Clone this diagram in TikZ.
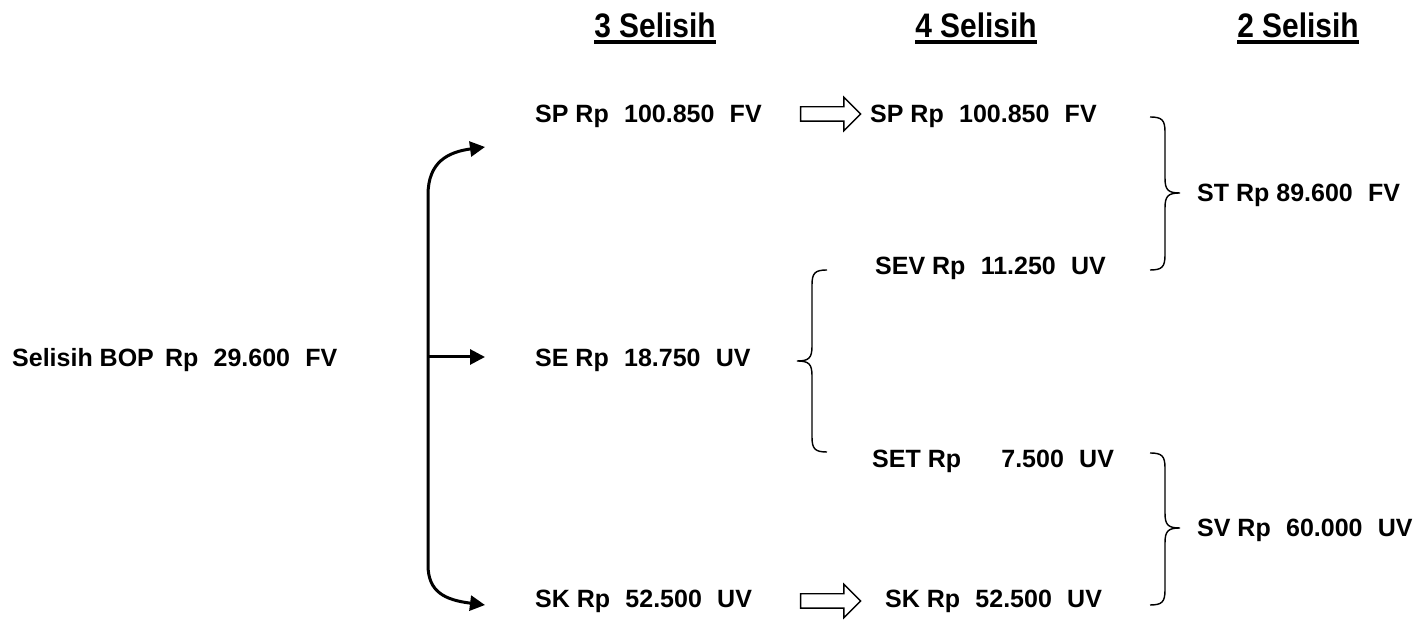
\documentclass[tikz,border=0pt]{standalone}
\usepackage{fontspec}
\setmainfont{Liberation Sans}
\newfontfamily\headfont{Liberation Sans}[FakeStretch=0.88]
\usetikzlibrary{arrows.meta,shapes.arrows,calc}
\begin{document}
\begin{tikzpicture}[x=1pt,y=1pt,
  lbl/.style={anchor=base west,inner sep=0pt,font=\fontsize{25}{29}\selectfont\bfseries},
  hdr/.style={anchor=base,inner sep=0pt,font=\headfont\fontsize{34}{40}\selectfont\bfseries},
  conn/.style={line width=3pt,{Triangle[length=15pt,width=15pt]}-{Triangle[length=15pt,width=15pt]}},
  conn1/.style={line width=3pt,-{Triangle[length=15pt,width=15pt]}},
  hollow/.style={single arrow,draw,line width=1.4pt,fill=white,minimum height=60pt,inner sep=6.5pt,single arrow head extend=9.5pt},
  brace/.style={line width=1.4pt}]
\useasboundingbox (0,0) rectangle (1414,620);
% headers
\node[hdr] (h3) at (655,582) {3 Selisih};
\node[hdr] (h4) at (976,582) {4 Selisih};
\node[hdr] (h2) at (1298,582) {2 Selisih};
\foreach \h in {h3,h4,h2}{\draw[line width=4pt] ($(\h.base west)+(0,-4)$) -- ($(\h.base east)+(0,-4)$);}
% labels
\node[lbl] (bop) at (12,253) {Selisih BOP\, Rp\,\, 29.600\,\, FV};
\node[lbl] (spa) at (535,497) {SP Rp\,\, 100.850\,\, FV};
\node[lbl] (sea) at (535,253) {SE Rp\,\, 18.750\,\, UV};
\node[lbl] (ska) at (535,12) {SK Rp\,\, 52.500\,\, UV};
\node[lbl] (spb) at (870,497) {SP Rp\,\, 100.850\,\, FV};
\node[lbl] (sev) at (875,345) {SEV Rp\,\, 11.250\,\, UV};
\node[lbl] (set) at (872,152) {SET Rp\quad\,\, 7.500\,\, UV};
\node[lbl] (skb) at (885,12) {SK Rp\,\, 52.500\,\, UV};
\node[lbl] (st) at (1197,418) {ST Rp 89.600\,\, FV};
\node[lbl] (sv) at (1197,83) {SV Rp\,\, 60.000\,\, UV};
% hollow arrows
\node[hollow] (ha1) at (827,506) {};
\node[hollow] (ha2) at (827,19) {};
% left fork connector
\coordinate (tipT) at (485,473);
\coordinate (tipB) at (485,15);
\coordinate (fork) at (428,263);
\coordinate (tipM) at (485,263);
\draw[conn] (tipT) .. controls (448,468) and (428,458) .. (428,425) -- (428,55) .. controls (428,28) and (445,20) .. (tipB);
\draw[conn1] (fork) -- (tipM);
% braces
\draw[brace] (827,350) .. controls (815,350) and (812,347) .. (812,335) -- (812,274) .. controls (812,262) and (809,259) .. (797,259) .. controls (809,259) and (812,256) .. (812,244) -- (812,183) .. controls (812,171) and (815,168) .. (827,168);
\draw[brace] (1150,503) .. controls (1162,503) and (1165,500) .. (1165,488) -- (1165,442) .. controls (1165,430) and (1168,427) .. (1180,427) .. controls (1168,427) and (1165,424) .. (1165,412) -- (1165,365) .. controls (1165,353) and (1162,350) .. (1150,350);
\draw[brace] (1150,167) .. controls (1162,167) and (1165,164) .. (1165,152) -- (1165,107) .. controls (1165,95) and (1168,92) .. (1180,92) .. controls (1168,92) and (1165,89) .. (1165,77) -- (1165,30) .. controls (1165,18) and (1162,15) .. (1150,15);
\end{tikzpicture}
\end{document}
